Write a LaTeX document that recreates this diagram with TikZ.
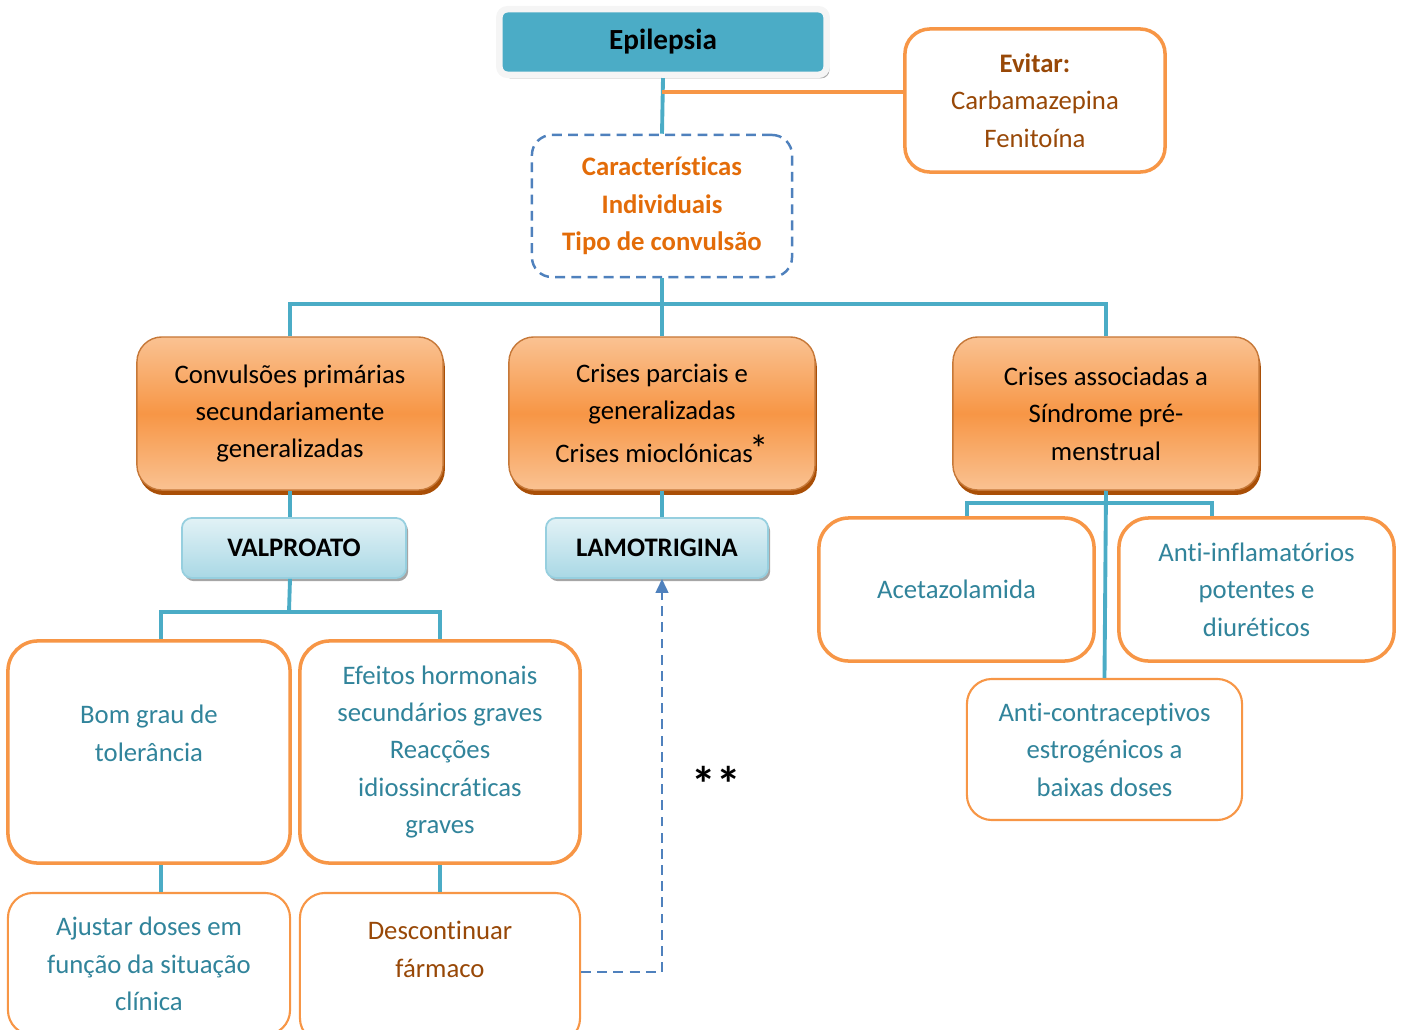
\documentclass[tikz,border=0pt]{standalone}
\usepackage{fontspec}
\setmainfont{Carlito}[Ligatures=NoCommon]
\usetikzlibrary{shadows,arrows.meta}

\definecolor{teal1}{HTML}{4BACC6}
\definecolor{arancio}{HTML}{F79646}
\definecolor{arancioch}{HTML}{FAC292}
\definecolor{ombra}{HTML}{A94F07}
\definecolor{marrone}{HTML}{984807}
\definecolor{testo}{HTML}{31849B}
\definecolor{arancioscuro}{HTML}{E36C09}
\definecolor{blu}{HTML}{4F81BD}
\definecolor{azzurro}{HTML}{A9D8E5}
\definecolor{azzurroch}{HTML}{E2F2F6}

\begin{document}
\begin{tikzpicture}[x=0.01cm, y=-0.01cm,
        every node/.style={font=\fontsize{7.6}{10.65}\selectfont, align=center, inner sep=0pt},
        linea/.style={teal1, line width=1.1pt},
        crisi/.style={rounded corners=0.25cm, draw=arancio!80!black, line width=0.4pt,
            top color=arancioch, bottom color=arancioch, middle color=arancio,
            drop shadow={shadow xshift=0.5pt, shadow yshift=-1.4pt, fill=ombra, opacity=1},
            minimum width=3.06cm, minimum height=1.53cm},
        farmaco/.style={rounded corners=0.1cm, draw=azzurro!80!teal1, line width=0.5pt,
            top color=azzurroch, bottom color=azzurro,
            drop shadow={shadow xshift=0.6pt, shadow yshift=-0.9pt, fill=gray!70, opacity=1},
            font=\fontsize{7.6}{10.65}\selectfont\bfseries, minimum height=0.6cm},
        spesso/.style={rounded corners=0.3cm, draw=arancio, line width=1pt, fill=white, text=testo},
        sottile/.style={rounded corners=0.25cm, draw=arancio, line width=0.6pt, fill=white, text=testo}]

    \useasboundingbox (0,0) rectangle (1402,1030);

    % titolo
    \node[rounded corners=0.08cm, fill=teal1, draw=gray!8, line width=0.065cm,
        drop shadow={shadow xshift=0.8pt, shadow yshift=-1pt, fill=gray!65, opacity=1},
        minimum width=3.27cm, minimum height=0.655cm,
        font=\fontsize{8.3}{10}\selectfont\bfseries] (epi) at (663,42) {Epilepsia};

    % da evitare
    \node[sottile, line width=1pt, text=marrone, minimum width=2.6cm, minimum height=1.43cm]
        (evi) at (1035,100.5) {\textbf{Evitar:}\\Carbamazepina\\Fenitoína};

    % caratteristiche
    \node[draw=blu, line width=0.7pt, dash pattern=on 2.8pt off 1.8pt, rounded corners=0.2cm,
        text=arancioscuro, font=\fontsize{7.6}{10.65}\selectfont\bfseries,
        minimum width=2.6cm, minimum height=1.42cm]
        (car) at (662,206) {Características\\Individuais\\Tipo de convulsão};

    % tipi di crisi
    \node[crisi] (cr1) at (290,413.5) {Convulsões primárias\\secundariamente\\generalizadas};
    \node[crisi] (cr2) at (662,413.5)
        {Crises parciais e\\generalizadas\\[1.5pt]Crises mioclónicas{\fontsize{11}{10}\selectfont\kern-1pt *}};
    \node[crisi] (cr3) at (1106,413.5) {Crises associadas a\\Síndrome pré-\\menstrual};

    % farmaci
    \node[farmaco, minimum width=2.24cm] (val) at (294,548) {VALPROATO};
    \node[farmaco, minimum width=2.22cm] (lam) at (657,548) {LAMOTRIGINA};

    % sotto il valproato
    \node[spesso, minimum width=2.82cm, minimum height=2.22cm] (bom) at (149,752) {Bom grau de\\tolerância\\~};
    \node[spesso, minimum width=2.8cm, minimum height=2.22cm] (efe) at (440,752)
        {Efeitos hormonais\\secundários graves\\Reacções\\idiossincráticas\\graves};
    \node[sottile, minimum width=2.82cm, minimum height=1.42cm] (aju) at (149,964)
        {Ajustar doses em\\função da situação\\clínica};
    \node[sottile, text=marrone, minimum width=2.8cm, minimum height=1.5cm] (des) at (440,968)
        {Descontinuar\\fármaco\\~};

    % sindrome pre-mestruale
    \node[spesso, minimum width=2.75cm, minimum height=1.43cm] (ace) at (956.5,589.5) {Acetazolamida};
    \node[spesso, minimum width=2.75cm, minimum height=1.43cm] (inf) at (1256.5,589.5)
        {Anti-inflamatórios\\potentes e\\diuréticos};
    \node[sottile, minimum width=2.75cm, minimum height=1.41cm] (acc) at (1104.5,749.5)
        {Anti-contraceptivos\\estrogénicos a\\baixas doses};

    % nota
    \node[font=\fontsize{14}{14}\selectfont\bfseries] (stelle) at (716,784) {**};

    % collegamenti
    \coordinate (k) at (662,92);
    \coordinate (bar) at (662,304);
    \coordinate (bar2) at (289,612);
    \coordinate (bar3) at (1105,503);
    \draw[linea] (epi.south) -- (car.north);
    \draw[arancio, line width=1.1pt] (k) -- (k -| evi.west);
    \draw[linea] (car.south) -- (cr2.north);
    \draw[linea] (cr1.north) |- (bar) -| (cr3.north);
    \draw[linea] (cr1.south) -- (cr1.south |- val.north);
    \draw[linea] (cr1.south |- val.south) -- (bar2);
    \draw[linea] ([xshift=0.12cm]bom.north) |- (bar2) -| (efe.north);
    \draw[linea] ([xshift=0.12cm]bom.south) -- ([xshift=0.12cm]aju.north);
    \draw[linea] (efe.south) -- (des.north);
    \draw[linea] (cr2.south) -- (cr2.south |- lam.north);
    \draw[linea] (cr3.south) -- (acc.north);
    \draw[linea] ([xshift=0.105cm]ace.north) |- (bar3) -| ([xshift=-0.445cm]inf.north);

    % freccia tratteggiata
    \draw[blu, line width=0.7pt, dash pattern=on 2.8pt off 1.8pt, -{Triangle[width=3.6pt,length=4pt]}]
        ([yshift=-0.04cm]des.east) -| (cr2.south |- lam.south);
\end{tikzpicture}
\end{document}
